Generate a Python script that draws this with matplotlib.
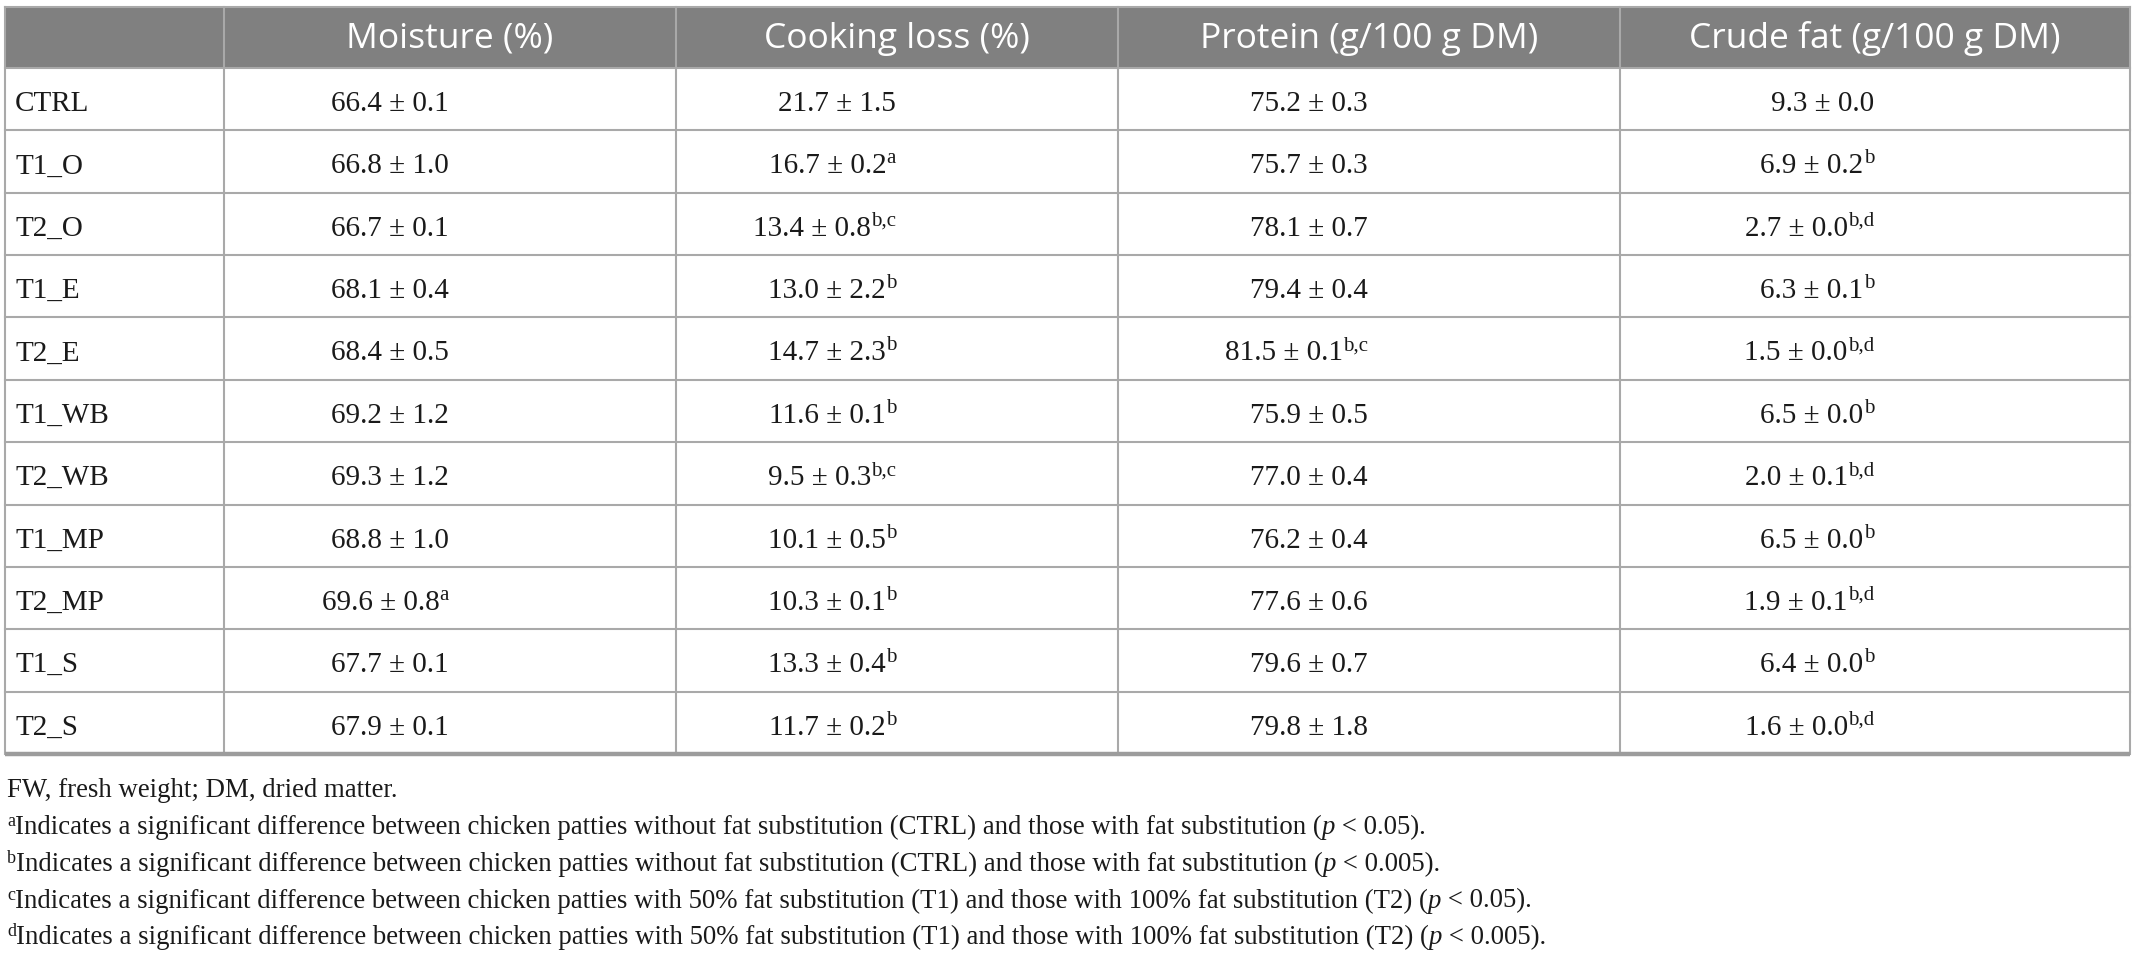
import matplotlib
matplotlib.use("Agg")
import matplotlib.pyplot as plt
from matplotlib.patches import Rectangle

# table content
groups = ["CTRL", "T1_O", "T2_O", "T1_E", "T2_E", "T1_WB", "T2_WB",
          "T1_MP", "T2_MP", "T1_S", "T2_S"]
headers = ["Moisture (%)", "Cooking loss (%)", "Protein (g/100 g DM)",
           "Crude fat (g/100 g DM)"]

moisture_mean = [66.4, 66.8, 66.7, 68.1, 68.4, 69.2, 69.3, 68.8, 69.6, 67.7, 67.9]
moisture_sd = [0.1, 1.0, 0.1, 0.4, 0.5, 1.2, 1.2, 1.0, 0.8, 0.1, 0.1]
moisture_sig = ["", "", "", "", "", "", "", "", "a", "", ""]

cooking_mean = [21.7, 16.7, 13.4, 13.0, 14.7, 11.6, 9.5, 10.1, 10.3, 13.3, 11.7]
cooking_sd = [1.5, 0.2, 0.8, 2.2, 2.3, 0.1, 0.3, 0.5, 0.1, 0.4, 0.2]
cooking_sig = ["", "a", "b,c", "b", "b", "b", "b,c", "b", "b", "b", "b"]

protein_mean = [75.2, 75.7, 78.1, 79.4, 81.5, 75.9, 77.0, 76.2, 77.6, 79.6, 79.8]
protein_sd = [0.3, 0.3, 0.7, 0.4, 0.1, 0.5, 0.4, 0.4, 0.6, 0.7, 1.8]
protein_sig = ["", "", "", "", "b,c", "", "", "", "", "", ""]

fat_mean = [9.3, 6.9, 2.7, 6.3, 1.5, 6.5, 2.0, 6.5, 1.9, 6.4, 1.6]
fat_sd = [0.0, 0.2, 0.0, 0.1, 0.0, 0.0, 0.1, 0.0, 0.1, 0.0, 0.0]
fat_sig = ["", "b", "b,d", "b", "b,d", "b", "b,d", "b", "b,d", "b", "b,d"]

note_first = "FW, fresh weight; DM, dried matter."
note_marks = ["a", "b", "c", "d"]
note_texts = [
    "Indicates a significant difference between chicken patties without fat substitution (CTRL) and those with fat substitution (",
    "Indicates a significant difference between chicken patties without fat substitution (CTRL) and those with fat substitution (",
    "Indicates a significant difference between chicken patties with 50% fat substitution (T1) and those with 100% fat substitution (T2) (",
    "Indicates a significant difference between chicken patties with 50% fat substitution (T1) and those with 100% fat substitution (T2) (",
]
note_p = ["0.05", "0.005", "0.05", "0.005"]

columns = [
    (moisture_mean, moisture_sd, moisture_sig),
    (cooking_mean, cooking_sd, cooking_sig),
    (protein_mean, protein_sd, protein_sig),
    (fat_mean, fat_sd, fat_sig),
]

W, H = 2134, 958
edges = [5, 224, 676, 1118, 1620, 2130]
top, head_bot, bottom = 7, 68, 754
row_h = (bottom - head_bot) / len(groups)

SERIF = "Liberation Serif"
line_col = "#a9a9a9"

fig = plt.figure(figsize=(W / 100, H / 100), dpi=100)
ax = fig.add_axes([0, 0, 1, 1])
ax.set_xlim(0, W)
ax.set_ylim(H, 0)
ax.axis("off")
r = fig.canvas.get_renderer()


def runs(x, y, parts, align="left"):
    # parts: (string, text kwargs, raise in px)
    ts = [ax.text(0, y - dy, s, ha="left", va="baseline", **kw) for s, kw, dy in parts]
    ws = [t.get_window_extent(renderer=r).width for t in ts]
    pos = x - sum(ws) if align == "right" else x
    for t, w in zip(ts, ws):
        t.set_x(pos)
        pos += w


# header band
ax.add_patch(Rectangle((edges[0], top), edges[-1] - edges[0], head_bot - top,
                       facecolor="#808080", edgecolor="none", zorder=0))
for j, h in enumerate(headers):
    ax.text((edges[j + 1] + edges[j + 2]) / 2, (top + head_bot) / 2 + 1, h,
            ha="center", va="center", color="white", fontsize=25.5,
            family="Open Sans")

# grid
for i in range(1, len(groups)):
    yy = head_bot + i * row_h
    ax.plot([edges[0], edges[-1]], [yy, yy], color=line_col, lw=1.5, zorder=2)
ax.plot([edges[0], edges[-1]], [head_bot, head_bot], color=line_col, lw=1.5, zorder=2)
ax.plot([edges[0], edges[-1]], [top, top], color=line_col, lw=1.5, zorder=2)
for x in edges:
    ax.plot([x, x], [top, bottom], color=line_col, lw=1.5, zorder=2)
ax.plot([edges[0], edges[-1]], [bottom, bottom], color="#9c9c9c", lw=3.2,
        zorder=3, solid_capstyle="butt")

base_kw = dict(family=SERIF, fontsize=21, color="#1a1a1a")
sup_kw = dict(family=SERIF, fontsize=15, color="#1a1a1a")

for i, g in enumerate(groups):
    yb = head_bot + i * row_h + 43
    ax.text(15, yb, g, ha="left", va="baseline", **base_kw)
    for j, (mean, sd, sig) in enumerate(columns):
        xr = (edges[j + 1] + edges[j + 2]) / 2 - 1
        parts = [(f"{mean[i]:.1f} \u00b1 {sd[i]:.1f}", base_kw, 0)]
        if sig[i]:
            parts.append((sig[i], sup_kw, 10))
        runs(xr, yb, parts, align="right")

# footnotes
note_kw = dict(family=SERIF, fontsize=19.3, color="#1a1a1a")
note_sup = dict(family=SERIF, fontsize=13, color="#1a1a1a")
note_it = dict(family=SERIF, fontsize=19.3, color="#1a1a1a", style="italic")
ax.text(7, 797, note_first, ha="left", va="baseline", **note_kw)
for k in range(len(note_marks)):
    yb = 834 + k * 36.8
    runs(7, yb, [(note_marks[k], note_sup, 8),
                 (note_texts[k], note_kw, 0),
                 ("p", note_it, 0),
                 (" < " + note_p[k] + ").", note_kw, 0)])

fig.savefig("out.png", dpi=100, facecolor="white")
